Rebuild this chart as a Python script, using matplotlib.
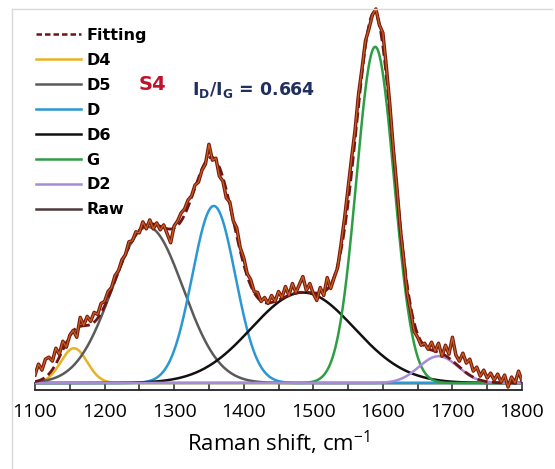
import numpy as np
import matplotlib
matplotlib.use('Agg')
import matplotlib.pyplot as plt
from matplotlib.lines import Line2D
import matplotlib.patheffects as pe

params = {'mathtext.fontset': 'custom',
          'mathtext.rm': 'Open Sans',
          'mathtext.bf': 'DejaVu Sans:bold',
          'font.family': 'DejaVu Sans'}
matplotlib.rcParams.update(params)

# fitted peak components (centre, height, gaussian width)
peak_names = ['D4', 'D5', 'D', 'D6', 'G', 'D2']
peak_centers = [1156, 1262, 1357, 1485, 1589, 1680]
peak_heights = [35, 157, 178, 91, 338, 27]
peak_widths = [19, 51, 31, 74, 27, 28]
peak_colors = ['#E8B222', '#5A5A5A', '#2B97D3', '#111111', '#2E9E44', '#A78BD6']

# measured spectrum, every 5 cm-1 from 1100 to 1800
raw_shift = np.arange(1100, 1801, 5)
raw_intensity = [8, 19, 13, 24, 26, 22, 35, 29, 42, 36,
                 48, 53, 46, 66, 58, 67, 62, 71, 69, 80,
                 82, 92, 96, 108, 113, 124, 129, 142, 143, 152,
                 151, 162, 155, 164, 155, 161, 154, 159, 150, 141,
                 158, 163, 171, 175, 184, 188, 199, 202, 214, 220,
                 240, 224, 226, 208, 203, 186, 182, 163, 156, 136,
                 126, 110, 104, 92, 91, 82, 86, 80, 88, 82,
                 92, 86, 97, 88, 100, 91, 99, 107, 93, 100,
                 90, 83, 96, 88, 106, 95, 106, 116, 140, 166,
                 196, 226, 254, 290, 316, 344, 356, 370, 376, 360,
                 352, 318, 280, 236, 198, 156, 124, 90, 72, 52,
                 46, 38, 40, 34, 41, 32, 40, 27, 38, 29,
                 46, 28, 22, 30, 20, 24, 12, 16, 7, 13,
                 5, 10, 3, 9, 1, 8, -4, 6, 0, 12,
                 2]

x = np.linspace(1100, 1800, 701)
components = []
for c, h, w in zip(peak_centers, peak_heights, peak_widths):
    components.append(h * np.exp(-0.5 * ((x - c) / w) ** 2))
fit = np.sum(components, axis=0)

fig = plt.figure(figsize=(5.55, 4.69), dpi=100)
ax = fig.add_axes([35/555, 79/469, 487/555, 385/469])

for comp, col in zip(components, peak_colors):
    ax.plot(x, comp, color=col, lw=1.8, zorder=2)
ax.plot(x, fit, color='#6E1414', lw=2, ls='--', zorder=3)
ax.plot(raw_shift, raw_intensity, color='#C8601F', lw=0.9, zorder=4,
        path_effects=[pe.Stroke(linewidth=2.5, foreground='#7A1A10'), pe.Normal()])

ax.set_xlim(1100, 1800)
ax.set_ylim(-7, 380)
for s in ['left', 'right', 'top']:
    ax.spines[s].set_visible(False)
ax.spines['bottom'].set_linewidth(1.3)
ax.spines['bottom'].set_color('#222222')
ax.set_yticks([])
ax.set_xticks(range(1100, 1801, 100))
ax.set_xticks(range(1150, 1800, 100), minor=True)
ax.tick_params(axis='x', which='both', direction='in', length=6, width=1.1,
               color='#222222', pad=9)
for lab in ax.get_xticklabels():
    lab.set_fontfamily('Open Sans')
    lab.set_fontsize(14)
ax.set_xlabel('Raman shift, cm$^{-1}$', fontfamily='Open Sans', fontsize=16,
              labelpad=6)

handles = [Line2D([], [], color='#6E1414', lw=1.8, ls=(0, (2.2, 1.2)))]
for col in peak_colors:
    handles.append(Line2D([], [], color=col, lw=1.8))
handles.append(Line2D([], [], color='#4D3B3B', lw=1.8))
labels = ['Fitting'] + peak_names + ['Raw']
ax.legend(handles, labels, loc='upper left', bbox_to_anchor=(36/555, 1 - 28/469),
          bbox_transform=fig.transFigure, frameon=False, borderpad=0,
          borderaxespad=0, handlelength=2.8, handletextpad=0.35,
          labelspacing=0.62, prop={'weight': 'bold', 'size': 11.5})

fig.text(152/555, 1 - 85/469, 'S4', color='#C0122B', fontsize=14,
         fontweight='bold', ha='center', va='center')
fig.text(192/555, 1 - 90/469, r'$\mathbf{I_D/I_G}$ = 0.664', color='#1F2F5F',
         fontsize=12.5, fontweight='bold', ha='left', va='center')

# light chart-area border
fig.add_artist(Line2D([12/555, 552/555], [1 - 9/469, 1 - 9/469],
                      color='#D9D9D9', lw=1))
fig.add_artist(Line2D([12/555, 12/555], [0, 1 - 9/469], color='#D9D9D9', lw=1))

fig.savefig('out.png', dpi=100)
